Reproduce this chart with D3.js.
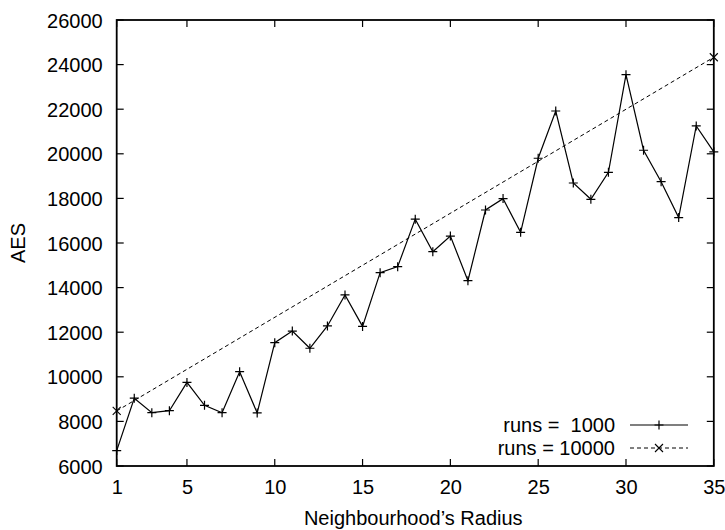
<!DOCTYPE html>
<html>
<head>
<meta charset="utf-8">
<script src="https://cdn.jsdelivr.net/npm/d3@7"></script>
<style>
  html, body { margin: 0; padding: 0; background: #fff; }
  svg text { font-family: "Liberation Sans", Arial, Helvetica, sans-serif; fill: #000; }
</style>
</head>
<body>
<svg id="chart" width="725" height="530"></svg>
<script>
// ---- data ----
const radius1000 = [1,2,3,4,5,6,7,8,9,10,11,12,13,14,15,16,17,18,19,20,21,22,23,24,25,26,27,28,29,30,31,32,33,34,35];
const aes1000 = [6690,9040,8390,8480,9750,8720,8390,10230,8380,11530,12050,11280,12280,13670,12260,14670,14940,17070,15610,16310,14310,17480,17990,16480,19800,21920,18690,17960,19170,23550,20160,18750,17140,21250,20090];
const radius10000 = [1,35];
const aes10000 = [8470,24330];
const xTicks = [1,5,10,15,20,25,30,35];
const yTicks = [6000,8000,10000,12000,14000,16000,18000,20000,22000,24000,26000];
const seriesLabels = ["runs =  1000", "runs = 10000"];
const xTitle = "Neighbourhood\u2019s Radius";
const yTitle = "AES";

// ---- layout ----
const svg = d3.select("#chart");
const L = 116.7, R = 713.8, T = 20, B = 466;
const x = d3.scaleLinear().domain([1,35]).range([L,R]);
const y = d3.scaleLinear().domain([6000,26000]).range([B,T]);
const fs = 20;

// ticks (inward, mirrored)
const tl = 7;
const g = svg.append("g");
xTicks.forEach(t => {
  g.append("line").attr("x1",x(t)).attr("x2",x(t)).attr("y1",B).attr("y2",B-tl).attr("stroke","#000").attr("stroke-width",1.2);
  g.append("line").attr("x1",x(t)).attr("x2",x(t)).attr("y1",T).attr("y2",T+tl).attr("stroke","#000").attr("stroke-width",1.2);
});
yTicks.forEach(t => {
  g.append("line").attr("x1",L).attr("x2",L+tl).attr("y1",y(t)).attr("y2",y(t)).attr("stroke","#000").attr("stroke-width",1.2);
  g.append("line").attr("x1",R).attr("x2",R-tl).attr("y1",y(t)).attr("y2",y(t)).attr("stroke","#000").attr("stroke-width",1.2);
});

// axes labels via d3 axes (no domain/ticks, just text)
const xAxis = d3.axisBottom(x).tickValues(xTicks).tickSize(0).tickPadding(0).tickFormat(d3.format("d"));
const xa = svg.append("g").attr("transform",`translate(0,${B})`).call(xAxis);
xa.select(".domain").remove();
xa.selectAll("text").attr("font-size",fs).attr("font-family","Liberation Sans, Arial, sans-serif").attr("fill","#000").attr("dy",null).attr("y",28);

const yAxis = d3.axisLeft(y).tickValues(yTicks).tickSize(0).tickPadding(0).tickFormat(d3.format("d"));
const ya = svg.append("g").attr("transform",`translate(${L-14},0)`).call(yAxis);
ya.select(".domain").remove();
ya.selectAll("text").attr("font-size",fs).attr("font-family","Liberation Sans, Arial, sans-serif").attr("fill","#000").attr("x",0).attr("dy","0.35em");

// frame
svg.append("rect").attr("x",L).attr("y",T).attr("width",R-L).attr("height",B-T)
  .attr("fill","none").attr("stroke","#000").attr("stroke-width",1.8);

// titles
svg.append("text").attr("x",(L+R)/2 - 2).attr("y",525).attr("text-anchor","middle").attr("font-size",fs).text(xTitle);
svg.append("text").attr("transform",`translate(25,243) rotate(-90)`).attr("text-anchor","middle").attr("font-size",fs).text(yTitle);

// series
const d1 = radius1000.map((r,i)=>[r,aes1000[i]]);
const d2 = radius10000.map((r,i)=>[r,aes10000[i]]);
const line = d3.line().x(d=>x(d[0])).y(d=>y(d[1]));

svg.append("path").datum(d2).attr("d",line).attr("fill","none").attr("stroke","#000").attr("stroke-width",1).attr("stroke-dasharray","4,3");
svg.append("path").datum(d1).attr("d",line).attr("fill","none").attr("stroke","#000").attr("stroke-width",1.2);

const ms = 4.5;
function plus(sel, cx, cy) {
  sel.append("path").attr("d",`M${cx-ms},${cy}H${cx+ms}M${cx},${cy-ms}V${cy+ms}`).attr("stroke","#000").attr("stroke-width",1.2).attr("fill","none");
}
function cross(sel, cx, cy) {
  const s = 4;
  sel.append("path").attr("d",`M${cx-s},${cy-s}L${cx+s},${cy+s}M${cx-s},${cy+s}L${cx+s},${cy-s}`).attr("stroke","#000").attr("stroke-width",1.1).attr("fill","none");
}
const mk = svg.append("g");
d1.forEach(d => plus(mk, x(d[0]), y(d[1])));
d2.forEach(d => cross(mk, x(d[0]), y(d[1])));

// legend
const lg = svg.append("g");
const ly = [425, 448];
lg.append("text").attr("x",615).attr("y",ly[0]).attr("dy","0.35em").attr("text-anchor","end").attr("font-size",fs).style("white-space","pre").attr("xml:space","preserve").text(seriesLabels[0]);
lg.append("text").attr("x",615).attr("y",ly[1]).attr("dy","0.35em").attr("text-anchor","end").attr("font-size",fs).text(seriesLabels[1]);
lg.append("line").attr("x1",630).attr("x2",688).attr("y1",ly[0]).attr("y2",ly[0]).attr("stroke","#000").attr("stroke-width",1.2);
plus(lg, 659, ly[0]);
lg.append("line").attr("x1",630).attr("x2",688).attr("y1",ly[1]).attr("y2",ly[1]).attr("stroke","#000").attr("stroke-width",1).attr("stroke-dasharray","4,3");
cross(lg, 659, ly[1]);
</script>
</body>
</html>
